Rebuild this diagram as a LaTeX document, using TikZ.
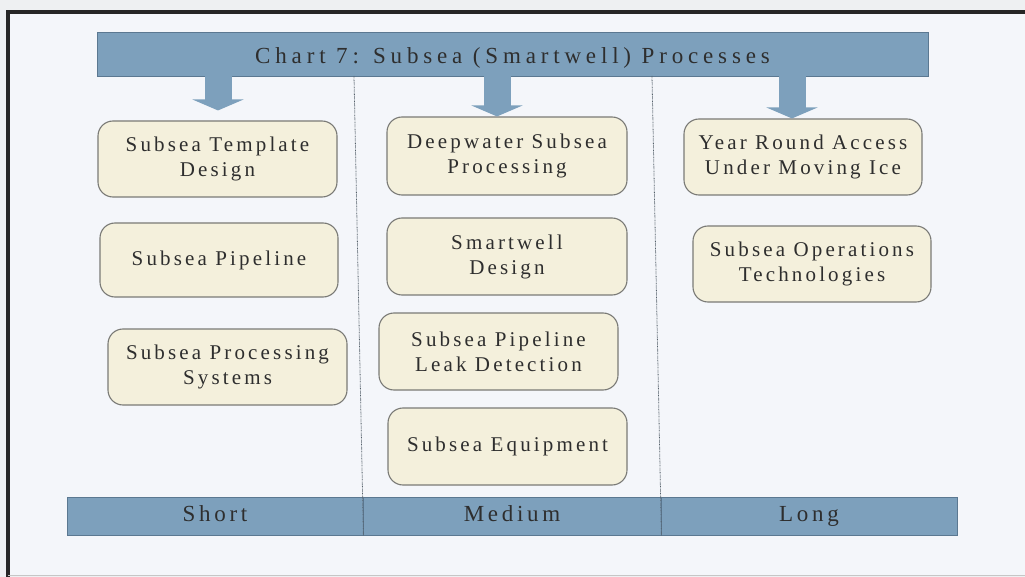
\documentclass[tikz,border=0pt]{standalone}
\usepackage{fontspec}
\setmainfont{Liberation Serif}
\newfontfamily\titleserif[LetterSpace=21]{Liberation Serif}
\newfontfamily\boxserif[LetterSpace=15]{Liberation Serif}
\newfontfamily\horizonserif[LetterSpace=16]{Liberation Serif}
\usetikzlibrary{arrows.meta,calc}

\definecolor{pagebg}{HTML}{F4F6FA}
\definecolor{outerbg}{HTML}{EEF0F2}
\definecolor{framecol}{HTML}{262626}
\definecolor{barfill}{HTML}{7DA0BC}
\definecolor{baredge}{HTML}{5B7891}
\definecolor{boxfill}{HTML}{F4F0DC}
\definecolor{boxedge}{HTML}{7A7A76}
\definecolor{inkgray}{HTML}{2E2E2E}
\definecolor{dividercol}{HTML}{55606A}

\tikzset{
  barnode/.style={draw=baredge, fill=barfill, line width=0.8pt, inner sep=0pt,
    text=inkgray, text height=15pt, text depth=5pt},
  procbox/.style={draw=boxedge, fill=boxfill, line width=1.1pt, rounded corners=15pt,
    inner sep=0pt, align=center, text=inkgray,
    font=\boxserif\fontsize{21}{25}\selectfont},
  blockarrow/.style={draw=barfill, line width=27pt,
    -{Triangle[width=51pt,length=11pt]}},
  divider/.style={draw=dividercol, line width=0.8pt, dash pattern=on 0.7pt off 0.7pt}
}

\begin{document}
\begin{tikzpicture}[x=1pt,y=-1pt]
\useasboundingbox (0,0) rectangle (1025,577);
\fill[outerbg] (0,0) rectangle (1025,577);
\fill[pagebg] (8,12) rectangle (1025,575);

% frame
\draw[framecol, line width=4pt] (8,577) -- (8,12) -- (1025,12);
\draw[gray!45, line width=1pt] (8,575) -- (1025,575);

% title bar
\node[barnode, minimum width=831pt, minimum height=44pt, text height=20pt, text depth=0pt,
      font=\titleserif\fontsize{23}{27}\selectfont] (title) at (512.5,54)
  {Chart 7: Subsea (Smartwell) Processes};

% horizon bar
\tikzset{horizon/.style={barnode, minimum height=38pt,
      font=\horizonserif\fontsize{23}{27}\selectfont}}
\node[horizon, minimum width=296pt] (short)  at (215,516) {Short};
\node[horizon, minimum width=298pt] (medium) at (512,516) {Medium};
\node[horizon, minimum width=296pt] (long)   at (809,516) {Long};

% column dividers
\coordinate (d1top) at (354,76);
\coordinate (d2top) at (652,76);
\draw[divider] (d1top) -- (short.south east);
\draw[divider] (d2top) -- (medium.south east);

% short term
\node[procbox, minimum width=239pt, minimum height=76pt] (s1) at (217.5,159) {Subsea Template\\Design};
\node[procbox, minimum width=238pt, minimum height=74pt] (s2) at (219,260) {Subsea Pipeline};
\node[procbox, minimum width=239pt, minimum height=76pt] (s3) at (227.5,367) {Subsea Processing\\Systems};

% medium term
\node[procbox, minimum width=240pt, minimum height=78pt] (m1) at (507,156) {Deepwater Subsea\\Processing};
\node[procbox, minimum width=240pt, minimum height=77pt] (m2) at (507,256.5) {Smartwell\\Design};
\node[procbox, minimum width=239pt, minimum height=77pt] (m3) at (498.5,351.5) {Subsea Pipeline\\Leak Detection};
\node[procbox, minimum width=239pt, minimum height=77pt] (m4) at (507.5,446.5) {Subsea Equipment};

% long term
\node[procbox, minimum width=238pt, minimum height=76pt] (l1) at (803,157) {Year Round Access\\Under Moving Ice};
\node[procbox, minimum width=238pt, minimum height=76pt] (l2) at (812,264) {Subsea Operations\\Technologies};

% arrows from the title bar
\coordinate (a1) at (218,0);
\coordinate (a2) at (497,0);
\coordinate (a3) at (792,0);
\draw[blockarrow] (title.south -| a1) -- ([yshift=10pt]s1.north -| a1);
\draw[blockarrow] (title.south -| a2) -- (m1.north -| a2);
\draw[blockarrow] (title.south -| a3) -- (l1.north -| a3);
\end{tikzpicture}
\end{document}
